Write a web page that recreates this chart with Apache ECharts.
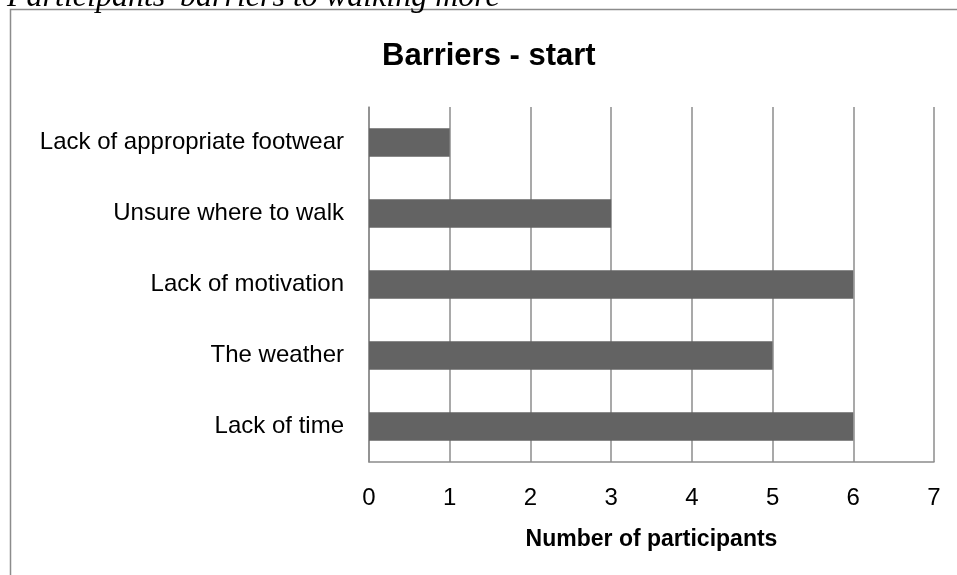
<!DOCTYPE html>
<html>
<head>
<meta charset="utf-8">
<script src="https://cdn.jsdelivr.net/npm/echarts@6/dist/echarts.min.js"></script>
<style>
  html, body { margin: 0; padding: 0; background: #fff; }
  #chart { width: 957px; height: 575px; }
</style>
</head>
<body>
<div id="chart"></div>
<script>
// Barriers reported at the start, listed bottom to top on the category axis
const categories = [
  'Lack of time',
  'The weather',
  'Lack of motivation',
  'Unsure where to walk',
  'Lack of appropriate footwear'
];
const participants = [6, 5, 6, 3, 1];

const xMin = 0;
const xMax = 7;
const xStep = 1;

const chart = echarts.init(document.getElementById('chart'), null, { renderer: 'canvas' });

chart.setOption({
  animation: false,
  backgroundColor: '#ffffff',
  title: {
    text: 'Barriers - start',
    left: 377,
    top: 36,
    textStyle: {
      fontFamily: 'Liberation Sans, Arial, sans-serif',
      fontWeight: 'bold',
      fontSize: 31,
      color: '#000'
    }
  },
  graphic: [
    {
      type: 'rect',
      silent: true,
      shape: { x: 10.5, y: 9.5, width: 1200, height: 1200 },
      style: { fill: null, stroke: '#8c8c8c', lineWidth: 1.5 }
    },
    {
      type: 'text',
      silent: true,
      x: 7,
      y: 14,
      style: {
        text: "Participants' barriers to walking more",
        font: 'italic 32px "Liberation Serif", "Times New Roman", serif',
        fill: '#000',
        textVerticalAlign: 'bottom'
      }
    }
  ],
  grid: {
    left: 369,
    right: 23,
    top: 107,
    bottom: 113,
    containLabel: false
  },
  xAxis: {
    type: 'value',
    min: xMin,
    max: xMax,
    interval: xStep,
    name: 'Number of participants',
    nameLocation: 'middle',
    nameGap: 66,
    nameTextStyle: {
      fontFamily: 'Liberation Sans, Arial, sans-serif',
      fontWeight: 'bold',
      fontSize: 23,
      color: '#000'
    },
    axisLine: { show: true, lineStyle: { color: '#8c8c8c', width: 1.5 } },
    axisTick: { show: false },
    axisLabel: {
      margin: 24,
      fontFamily: 'Liberation Sans, Arial, sans-serif',
      fontSize: 24,
      color: '#000'
    },
    splitLine: { show: true, lineStyle: { color: '#8c8c8c', width: 1.5 } }
  },
  yAxis: {
    type: 'category',
    data: categories,
    axisLine: { show: true, lineStyle: { color: '#8c8c8c', width: 1.5 } },
    axisTick: { show: false },
    axisLabel: {
      margin: 25,
      fontFamily: 'Liberation Sans, Arial, sans-serif',
      fontSize: 24,
      color: '#000'
    },
    splitLine: { show: false }
  },
  series: [
    {
      type: 'bar',
      data: participants,
      barWidth: '40%',
      itemStyle: { color: '#636363' },
      silent: true
    }
  ]
});
</script>
</body>
</html>
